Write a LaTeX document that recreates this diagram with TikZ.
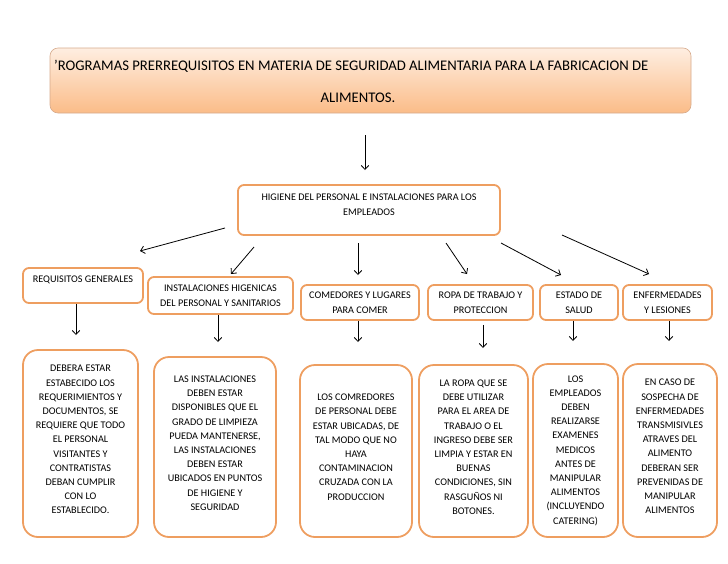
\documentclass[tikz,border=0pt]{standalone}
\usepackage{fontspec}
\setmainfont{Carlito}
\usepackage{tikz}
\usetikzlibrary{arrows.meta}

\definecolor{boxorange}{RGB}{238,158,96}
\definecolor{titletop}{RGB}{254,238,225}
\definecolor{titlebottom}{RGB}{251,188,136}
\definecolor{titleline}{RGB}{214,170,140}

\tikzset{
  headbox/.style={draw=boxorange, line width=1.8pt, rounded corners=6pt,
    align=center, inner sep=2pt, font=\fontsize{10.2}{14.8}\selectfont},
  notebox/.style={draw=boxorange, line width=1.8pt, rounded corners=15pt,
    align=center, inner sep=2pt, font=\fontsize{10.2}{14.2}\selectfont},
  arr/.style={->, line width=0.8pt, >={Straight Barb[length=4pt,width=7.5pt]}}
}

\begin{document}
\begin{tikzpicture}[x=1pt,y=-1pt]
\useasboundingbox (0,0) rectangle (728,563);
%%title
\node[draw=titleline, line width=0.6pt, rounded corners=8pt, top color=titletop,
  bottom color=titlebottom, minimum width=641pt, minimum height=65pt] (title) at (370.5,80.5) {};
\node[anchor=west, inner sep=0pt, font=\fontsize{14.7}{16}\selectfont] (titleA) at (54,66)
  {\char"0027 ROGRAMAS PRERREQUISITOS EN MATERIA DE SEGURIDAD ALIMENTARIA PARA LA FABRICACION DE};
\node[inner sep=0pt, font=\fontsize{14.7}{16}\selectfont] (titleB) at (358,98) {ALIMENTOS.};

%%main box
\node[headbox, minimum width=262pt, minimum height=50pt, text depth=10pt] (higiene) at (369,210)
  {HIGIENE DEL PERSONAL E INSTALACIONES PARA LOS\\ EMPLEADOS};

%%second row
\node[headbox, minimum width=120pt, minimum height=35pt, text depth=13pt] (req) at (83,285.5)
  {REQUISITOS GENERALES};
\node[headbox, minimum width=145pt, minimum height=37pt] (inst) at (220.5,295.5)
  {INSTALACIONES HIGENICAS\\ DEL PERSONAL Y SANITARIOS};
\node[headbox, minimum width=118pt, minimum height=35pt] (come) at (360,302.5)
  {COMEDORES Y LUGARES\\ PARA COMER};
\node[headbox, minimum width=105pt, minimum height=35pt] (ropa) at (480.5,302.5)
  {ROPA DE TRABAJO Y\\ PROTECCION};
\node[headbox, minimum width=78pt, minimum height=35pt] (salud) at (579,302.5)
  {ESTADO DE\\ SALUD};
\node[headbox, minimum width=89pt, minimum height=35pt] (enf) at (667.5,302.5)
  {ENFERMEDADES\\ Y LESIONES};

%%third row
\node[notebox, minimum width=115pt, minimum height=187pt, text depth=8pt] (reqtxt) at (80.5,443.5)
  {DEBERA ESTAR\\ ESTABECIDO LOS\\ REQUERIMIENTOS Y\\ DOCUMENTOS, SE\\ REQUIERE QUE TODO\\
   EL PERSONAL\\ VISITANTES Y\\ CONTRATISTAS\\ DEBAN CUMPLIR\\ CON LO\\ ESTABLECIDO.};
\node[notebox, minimum width=122pt, minimum height=180pt, text depth=8pt] (insttxt) at (215,447)
  {LAS INSTALACIONES\\ DEBEN ESTAR\\ DISPONIBLES QUE EL\\ GRADO DE LIMPIEZA\\ PUEDA MANTENERSE,\\
   LAS INSTALACIONES\\ DEBEN ESTAR\\ UBICADOS EN PUNTOS\\ DE HIGIENE Y\\ SEGURIDAD};
\node[notebox, minimum width=112pt, minimum height=172pt, text depth=8pt] (cometxt) at (356,451)
  {LOS COMREDORES\\ DE PERSONAL DEBE\\ ESTAR UBICADAS, DE\\ TAL MODO QUE NO\\ HAYA\\
   CONTAMINACION\\ CRUZADA CON LA\\ PRODUCCION};
\node[notebox, minimum width=109pt, minimum height=172pt, text depth=8pt] (ropatxt) at (473.5,451)
  {LA ROPA QUE SE\\ DEBE UTILIZAR\\ PARA EL AREA DE\\ TRABAJO O EL\\ INGRESO DEBE SER\\
   LIMPIA Y ESTAR EN\\ BUENAS\\ CONDICIONES, SIN\\ RASGUÑOS NI\\ BOTONES.};
\node[notebox, minimum width=85pt, minimum height=173pt] (saludtxt) at (575.5,450.5)
  {LOS\\ EMPLEADOS\\ DEBEN\\ REALIZARSE\\ EXAMENES\\ MEDICOS\\ ANTES DE\\ MANIPULAR\\
   ALIMENTOS\\ (INCLUYENDO\\ CATERING)};
\node[notebox, minimum width=94pt, minimum height=173pt, text depth=8pt] (enftxt) at (670,450.5)
  {EN CASO DE\\ SOSPECHA DE\\ ENFERMEDADES\\ TRANSMISIVLES\\ ATRAVES DEL\\ ALIMENTO\\
   DEBERAN SER\\ PREVENIDAS DE\\ MANIPULAR\\ ALIMENTOS};

%%arrow ends
\coordinate (t0) at (365,135);
\coordinate (t1) at (365,170);
\coordinate (reqS) at (225,228);   \coordinate (reqE) at (140,251);
\coordinate (instS) at (254,247);  \coordinate (instE) at (231,274);
\coordinate (comeS) at (358,243);  \coordinate (comeE) at (358,275);
\coordinate (ropaS) at (446,243);  \coordinate (ropaE) at (467,274);
\coordinate (saludS) at (501,243); \coordinate (saludE) at (561,275);
\coordinate (enfS) at (562,235);   \coordinate (enfE) at (649,274);
\coordinate (reqD) at (76,335);
\coordinate (instD) at (218,342);
\coordinate (comeD) at (358,342);
\coordinate (ropaD) at (483,348);
\coordinate (saludD) at (573,341);
\coordinate (enfD) at (669,341);

%%arrows
\draw[arr] (t0) -- (t1);
\draw[arr] (reqS) -- (reqE);
\draw[arr] (instS) -- (instE);
\draw[arr] (comeS) -- (comeE);
\draw[arr] (ropaS) -- (ropaE);
\draw[arr] (saludS) -- (saludE);
\draw[arr] (enfS) -- (enfE);
\draw[arr] (req.south -| reqD) -- (reqD);
\draw[arr] (inst.south -| instD) -- (instD);
\draw[arr] (come.south -| comeD) -- (comeD);
\draw[arr] ([yshift=-4pt]ropa.south -| ropaD) -- (ropaD);
\draw[arr] (salud.south -| saludD) -- (saludD);
\draw[arr] (enf.south -| enfD) -- (enfD);
\end{tikzpicture}
\end{document}
